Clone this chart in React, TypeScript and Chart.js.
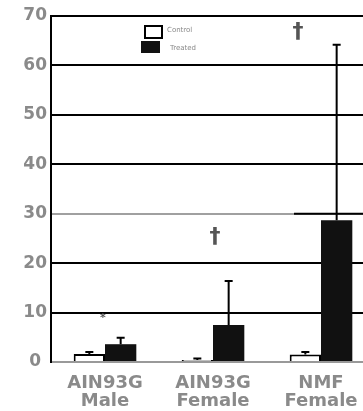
import React, { useEffect, useRef } from "react";
import { Chart, registerables } from "chart.js";

Chart.register(...registerables);

// ---- data ----
const categories: string[][] = [
  ["AIN93G", "Male"],
  ["AIN93G", "Female"],
  ["NMF", "Female"],
];
const seriesLabels = ["Control", "Treated"];
const whiteValues = [1.6, 0.4, 1.5];
const whiteErrors = [0.4, 0.3, 0.5];
const blackValues = [3.6, 7.5, 28.7];
const blackErrors = [1.3, 8.9, 35.5];
const yTicks = [0, 10, 20, 30, 40, 50, 60, 70];
const markCategory = [0, 1, 2];
const markValue = [8.9, 25.3, 66.8];
const markText = ["*", "†", "†"];

// ---- styles ----
const markDx = [-2, 2, -23];
const markFont = ["bold 11px 'DejaVu Sans'", "bold 22px 'DejaVu Sans'", "bold 22px 'DejaVu Sans'"];
const GRAY = "#8a8a8a";

const errorBarPlugin = {
  id: "errorBars",
  afterDatasetsDraw(chart: any) {
    const ctx = chart.ctx;
    const y = chart.scales.y;
    const errs = [whiteErrors, blackErrors];
    chart.data.datasets.forEach((ds: any, di: number) => {
      const meta = chart.getDatasetMeta(di);
      meta.data.forEach((el: any, i: number) => {
        const top = y.getPixelForValue(ds.data[i]);
        const hi = y.getPixelForValue(ds.data[i] + errs[di][i]);
        ctx.save();
        ctx.strokeStyle = "#000";
        ctx.lineWidth = 2;
        ctx.beginPath();
        ctx.moveTo(el.x, top);
        ctx.lineTo(el.x, hi);
        ctx.moveTo(el.x - 4, hi);
        ctx.lineTo(el.x + 4, hi);
        ctx.stroke();
        ctx.restore();
      });
    });
    // significance marks
    const x = chart.scales.x;
    markText.forEach((t, k) => {
      ctx.save();
      ctx.fillStyle = "#555";
      ctx.font = markFont[k];
      ctx.textAlign = "center";
      ctx.textBaseline = "middle";
      ctx.fillText(t, x.getPixelForValue(markCategory[k]) + markDx[k], y.getPixelForValue(markValue[k]));
      ctx.restore();
    });
    // legend
    const ca = chart.chartArea;
    const lx = ca.left + 93;
    ctx.save();
    ctx.fillStyle = "#fff";
    ctx.strokeStyle = "#000";
    ctx.lineWidth = 2;
    ctx.fillRect(lx + 1, ca.top + 10, 17, 12);
    ctx.strokeRect(lx + 1, ca.top + 10, 17, 12);
    ctx.fillStyle = "#111";
    ctx.fillRect(lx - 3, ca.top + 25, 19, 12);
    ctx.fillStyle = GRAY;
    ctx.font = "7px 'DejaVu Sans'";
    ctx.textAlign = "left";
    ctx.textBaseline = "middle";
    ctx.fillText(seriesLabels[0], lx + 23, ca.top + 14);
    ctx.fillText(seriesLabels[1], lx + 26, ca.top + 32);
    ctx.restore();
  },
  beforeDatasetsDraw(chart: any) {
    // dark right-hand part of the 30 line
    const ctx = chart.ctx;
    const y = chart.scales.y;
    const x = chart.scales.x;
    const yy = y.getPixelForValue(30);
    ctx.save();
    ctx.strokeStyle = "#000";
    ctx.lineWidth = 2;
    ctx.beginPath();
    ctx.moveTo(x.getPixelForValue(2) - 27, yy);
    ctx.lineTo(chart.chartArea.right, yy);
    ctx.stroke();
    ctx.restore();
  },
};

export default function App() {
  const ref = useRef<HTMLCanvasElement | null>(null);
  useEffect(() => {
    if (!ref.current) return;
    const chart = new Chart(ref.current, {
      type: "bar",
      data: {
        labels: categories,
        datasets: [
          {
            label: seriesLabels[0],
            data: whiteValues,
            backgroundColor: "#fff",
            borderColor: "#000",
            borderWidth: 2,
          },
          {
            label: seriesLabels[1],
            data: blackValues,
            backgroundColor: "#111",
            borderColor: "#111",
            borderWidth: 0,
          },
        ],
      },
      options: {
        responsive: false,
        animation: false,
        layout: { padding: { left: 0, right: 10, top: 16, bottom: 0 } },
        datasets: { bar: { categoryPercentage: 0.58, barPercentage: 1.0 } },
        plugins: { legend: { display: false }, tooltip: { enabled: false } },
        scales: {
          x: {
            grid: { display: false, drawTicks: false },
            border: { display: true, color: "#999", width: 2 },
            ticks: {
              color: GRAY,
              padding: 12,
              maxRotation: 0,
              autoSkip: false,
              font: { family: "'DejaVu Sans'", size: 18, weight: "bold", lineHeight: 1.0 },
            },
            afterFit(scale: any) {
              scale.height = 49;
            },
          },
          y: {
            min: 0,
            max: 70,
            afterBuildTicks(scale: any) {
              scale.ticks = yTicks.map((v) => ({ value: v }));
            },
            grid: {
              drawTicks: false,
              lineWidth: 2,
              color: (c: any) =>
                c.tick && c.tick.value === 0 ? "rgba(0,0,0,0)" : c.tick && c.tick.value === 30 ? "#a0a0a0" : "#000",
            },
            border: { display: true, color: "#000", width: 2 },
            ticks: {
              color: GRAY,
              padding: 4,
              crossAlign: "center",
              font: { family: "'DejaVu Sans'", size: 17, weight: "bold" },
            },
            afterFit(scale: any) {
              scale.width = 51;
            },
          },
        },
      },
      plugins: [errorBarPlugin],
    } as any);
    return () => chart.destroy();
  }, []);
  return (
    <div style={{ position: "fixed", left: 0, top: 0, width: 363, height: 411, overflow: "hidden", background: "#fff" }}>
      <canvas ref={ref} width={385} height={411} style={{ display: "block", position: "absolute", left: 0, top: 0 }} />
    </div>
  );
}
